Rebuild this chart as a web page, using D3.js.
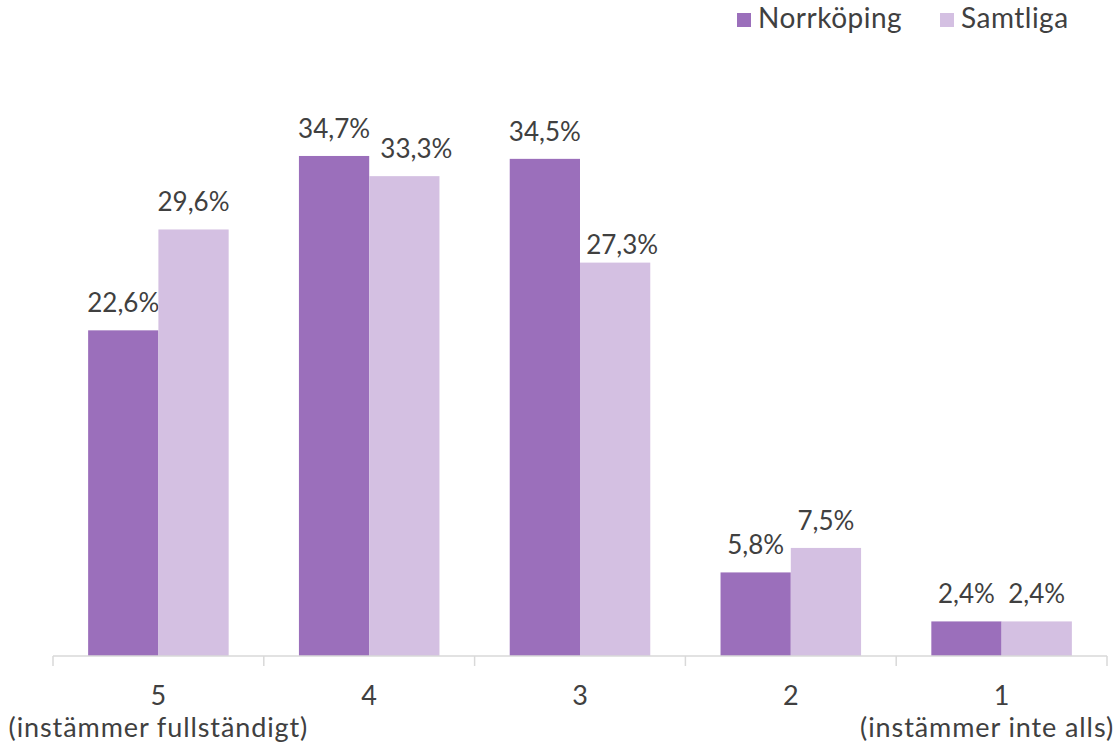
<!DOCTYPE html>
<html>
<head>
<meta charset="utf-8">
<script src="https://cdn.jsdelivr.net/npm/d3@7"></script>
<style>
  html, body { margin: 0; padding: 0; background: #ffffff; }
  svg { display: block; font-family: Lato, "Open Sans", sans-serif; font-weight: 400; }
</style>
</head>
<body>
<svg id="chart" width="1117" height="742"></svg>
<script>
// Survey answers on a 5-point scale, share of respondents (%)
const categories = ["5", "4", "3", "2", "1"];
const subLabels = ["(instämmer fullständigt)", "", "", "", "(instämmer inte alls)"];
const seriesNames = ["Norrköping", "Samtliga"];
const norrkoping = [22.6, 34.7, 34.5, 5.8, 2.4];
const samtliga = [29.6, 33.3, 27.3, 7.5, 2.4];
const seriesValues = [norrkoping, samtliga];
const colors = ["#9b6fbb", "#d4c0e2"];

// Hand-placed value labels (series index, category index) -> [dx, dy]
const labelNudge = { "1-1": [12, 0], "1-2": [7, 9] };

const W = 1117, H = 742;
const svg = d3.select("#chart");
const textColor = "#404040";

const x0 = d3.scaleBand().domain(categories).range([53, 1107]).padding(0);
const x1 = d3.scaleBand().domain(seriesNames).range([0, x0.bandwidth()])
  .paddingInner(0).paddingOuter(0.5);
const y = d3.scaleLinear().domain([0, 40]).range([656, 79.6]);

const fmt = v => d3.format(".1f")(v).replace(".", ",") + "%";

// Bars and value labels
categories.forEach((cat, i) => {
  const g = svg.append("g").attr("transform", `translate(${x0(cat)},0)`);
  seriesNames.forEach((s, j) => {
    const v = seriesValues[j][i];
    const [dx, dy] = labelNudge[`${j}-${i}`] || [0, 0];
    g.append("rect")
      .attr("x", x1(s))
      .attr("y", y(v))
      .attr("width", x1.bandwidth())
      .attr("height", y(0) - y(v))
      .attr("fill", colors[j]);
    g.append("text")
      .attr("x", x1(s) + x1.bandwidth() / 2 + dx)
      .attr("y", y(v) - 18 + dy)
      .attr("text-anchor", "middle")
      .attr("fill", textColor)
      .attr("font-size", 26)
      .text(fmt(v));
  });
});

// Category axis: baseline with boundary ticks
const axisColor = "#d9d9d9";
const axisG = svg.append("g");
axisG.append("line")
  .attr("x1", x0.range()[0]).attr("x2", x0.range()[1])
  .attr("y1", y(0)).attr("y2", y(0))
  .attr("stroke", axisColor).attr("stroke-width", 1.5);
const bounds = categories.map(c => x0(c)).concat([x0.range()[1]]);
bounds.forEach(bx => {
  axisG.append("line")
    .attr("x1", bx).attr("x2", bx)
    .attr("y1", y(0)).attr("y2", y(0) + 10)
    .attr("stroke", axisColor).attr("stroke-width", 1.5);
});

categories.forEach((cat, i) => {
  const cx = x0(cat) + x0.bandwidth() / 2;
  axisG.append("text")
    .attr("x", cx).attr("y", 705)
    .attr("text-anchor", "middle")
    .attr("fill", textColor)
    .attr("font-size", 27)
    .text(cat);
  if (subLabels[i]) {
    const t = axisG.append("text")
      .attr("x", cx).attr("y", 737)
      .attr("text-anchor", "middle")
      .attr("fill", textColor)
      .attr("font-size", 27)
      .attr("letter-spacing", 0.9)
      .text(subLabels[i]);
    // keep the wrapped label inside the drawing area
    const len = t.node().getComputedTextLength();
    let left = cx - len / 2;
    if (left < 2) left = 2;
    if (left + len > W - 3) left = W - 3 - len;
    t.attr("text-anchor", "start").attr("x", left);
  }
});

// Legend
const legend = svg.append("g");
const legendX = [737, 940];
seriesNames.forEach((s, j) => {
  legend.append("rect")
    .attr("x", legendX[j]).attr("y", 13)
    .attr("width", 14).attr("height", 14)
    .attr("fill", colors[j]);
  legend.append("text")
    .attr("x", legendX[j] + 21).attr("y", 28)
    .attr("fill", textColor)
    .attr("font-size", 28)
    .attr("letter-spacing", 0.5)
    .text(s);
});
</script>
</body>
</html>
